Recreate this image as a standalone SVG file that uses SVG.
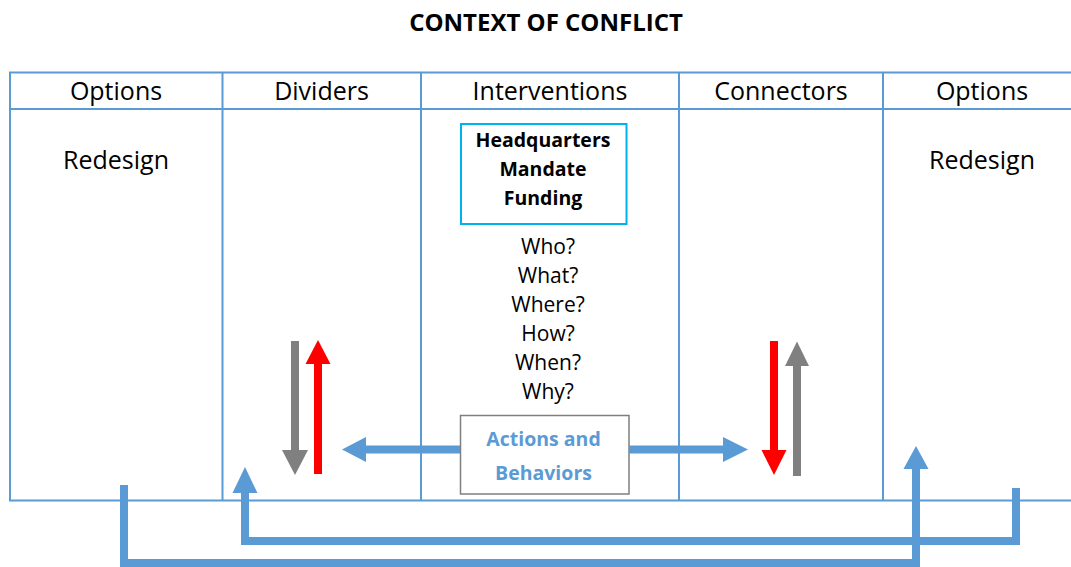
<svg xmlns="http://www.w3.org/2000/svg" width="1071" height="567" viewBox="0 0 1071 567">
<style>
.t{font-family:"Open Sans","Liberation Sans",sans-serif;text-anchor:middle;fill:#000}
.hd{font-size:25px}
.q{font-size:21px}
.b{font-weight:bold}
.grid{stroke:#5B9BD5;stroke-width:2;fill:none}
.blue{stroke:#5B9BD5;stroke-width:8;fill:none;stroke-linejoin:miter}
.hb{fill:#5B9BD5}
</style>
<rect width="1071" height="567" fill="#fff"/>
<text class="t b" x="546" y="31" font-size="24">CONTEXT OF CONFLICT</text>
<g id="table">
<path class="grid" d="M10 72.5H1075V500.5H10Z M10 109H1075 M222.5 72.5V500.5 M421 72.5V500.5 M679 72.5V500.5 M883 72.5V500.5"/>
</g>
<g id="col-options-left">
<text class="t hd" x="116" y="100">Options</text>
<text class="t hd" x="116" y="169">Redesign</text>
</g>
<g id="col-dividers">
<text class="t hd" x="321.5" y="100">Dividers</text>
</g>
<g id="col-interventions">
<text class="t hd" x="550" y="100">Interventions</text>
<text class="t q" x="548" y="254">Who?</text>
<text class="t q" x="548" y="283">What?</text>
<text class="t q" x="548" y="312">Where?</text>
<text class="t q" x="548" y="341">How?</text>
<text class="t q" x="548" y="370">When?</text>
<text class="t q" x="548" y="399">Why?</text>
</g>
<g id="col-connectors">
<text class="t hd" x="781" y="100">Connectors</text>
</g>
<g id="col-options-right">
<text class="t hd" x="982" y="100">Options</text>
<text class="t hd" x="982" y="169">Redesign</text>
</g>
<g id="hq">
<rect x="461" y="124" width="165.5" height="100" fill="#fff" stroke="#00B0F0" stroke-width="2"/>
<text class="t b" x="543" y="147" font-size="19.5">Headquarters</text>
<text class="t b" x="543" y="176" font-size="19.5">Mandate</text>
<text class="t b" x="543" y="205" font-size="19.5">Funding</text>
</g>
<g id="actions">
<rect x="460.5" y="415.5" width="168.5" height="78.5" fill="#fff" stroke="#7F7F7F" stroke-width="1.5"/>
<text class="t b" x="543.5" y="446" font-size="19.5" style="fill:#5B9BD5">Actions and</text>
<text class="t b" x="543.5" y="480" font-size="19.5" style="fill:#5B9BD5">Behaviors</text>
</g>
<g id="connectors">
<path class="blue" d="M1016 488V541H245V492"/>
<polygon class="hb" points="232.5,493 257.5,493 245,467"/>
<path class="blue" d="M124 485V563H916V468"/>
<polygon class="hb" points="903.5,469 928.5,469 916,446"/>
<path class="blue" d="M460 449.5H365"/>
<polygon class="hb" points="366,437 366,462 342,449.5"/>
<path class="blue" d="M629 449.5H724"/>
<polygon class="hb" points="723,437 723,462 748,449.5"/>
<path d="M295 341V451" stroke="#808080" stroke-width="8"/>
<polygon points="282,450 308,450 295,475" fill="#808080"/>
<path d="M318 474V363" stroke="#FF0000" stroke-width="8"/>
<polygon points="305.5,364 330.5,364 318,340" fill="#FF0000"/>
<path d="M774 341V451" stroke="#FF0000" stroke-width="8"/>
<polygon points="761.5,450 786.5,450 774,475" fill="#FF0000"/>
<path d="M797 476V365" stroke="#808080" stroke-width="8"/>
<polygon points="785,366 809,366 797,341.5" fill="#808080"/>
</g>
</svg>
